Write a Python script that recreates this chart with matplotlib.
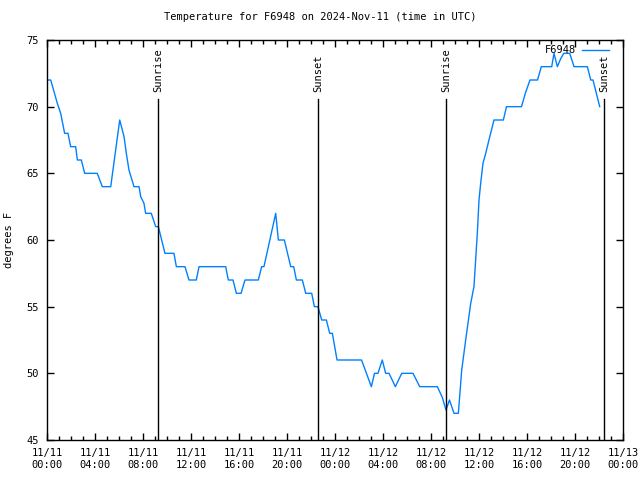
import numpy as np
import pandas as pd
import matplotlib
matplotlib.use("Agg")
import matplotlib.pyplot as plt
import matplotlib.dates as mdates

plt.rcParams['font.family'] = ['DejaVu Sans Mono']
plt.rcParams['font.size'] = 7.5

start = pd.Timestamp("2024-11-11 00:00")

# hours after 11/11 00:00 UTC, temperature in F
hours = [0.04, 0.31, 0.86, 1.14, 1.47, 1.75, 1.97, 2.39, 2.53, 2.86,
         3.14, 4.19, 4.61, 5.31, 6.06, 6.42, 6.61, 6.83, 7.25, 7.67,
         7.81, 8.08, 8.22, 8.69, 9.06, 9.28, 9.83, 10.58, 10.78, 11.5,
         11.83, 12.44, 12.67, 14.89, 15.11, 15.5, 15.78, 16.17, 16.5, 17.61,
         17.89, 18.08, 19.06, 19.28, 19.78, 20.31, 20.56, 20.78, 21.28, 21.56,
         22.06, 22.28, 22.58, 22.89, 23.28, 23.56, 23.78, 24.17, 26.21, 27.03,
         27.29, 27.58, 27.94, 28.22, 28.5, 29.03, 29.56, 30.5, 31.06, 32.53,
         32.94, 33.25, 33.54, 33.92, 34.28, 34.56, 34.89, 35.31, 35.58, 35.72,
         35.86, 36.0, 36.14, 36.33, 36.56, 36.83, 37.11, 37.25, 38.03, 38.29,
         39.54, 39.86, 40.25, 40.88, 41.19, 42.06, 42.25, 42.53, 42.81, 43.06,
         43.56, 43.92, 45.03, 45.31, 45.5, 45.78, 46.06]
temps = [72, 72, 70.25, 69.5, 68, 68, 67, 67, 66, 66,
         65, 65, 64, 64, 69, 67.75, 66.5, 65.25, 64, 64,
         63.25, 62.75, 62, 62, 61, 61, 59, 59, 58, 58,
         57, 57, 58, 58, 57, 57, 56, 56, 57, 57,
         58, 58, 62, 60, 60, 58, 58, 57, 57, 56,
         56, 55, 55, 54, 54, 53, 53, 51, 51, 49,
         50, 50, 51, 50, 50, 49, 50, 50, 49, 49,
         48.2, 47.25, 48, 47, 47, 50.25, 52.5, 55.25, 56.5, 58.5,
         60.5, 63, 64.25, 65.75, 66.5, 67.5, 68.5, 69, 69, 70,
         70, 71, 72, 72, 73, 73, 74, 73, 73.6, 74,
         74, 73, 73, 72, 72, 71, 70]

sun_hours = [9.28, 22.61, 33.28, 46.42]
sun_labels = ["Sunrise", "Sunset", "Sunrise", "Sunset"]

times = start + pd.to_timedelta(hours, unit="h")

fig = plt.figure(figsize=(6.4, 4.8), dpi=100)
ax = fig.add_axes([47/640, 40/480, 576/640, 400/480])

ax.plot(times, temps, color="#0080ff", lw=1, label="F6948")

for h, lab in zip(sun_hours, sun_labels):
    t = start + pd.Timedelta(hours=h)
    ax.axvline(t, ymin=0, ymax=0.853, color="black", lw=1)
    ax.text(t, 0.87, lab, transform=ax.get_xaxis_transform(), rotation=90,
            ha="center", va="bottom", fontsize=7.5)

ax.set_xlim(start, start + pd.Timedelta(hours=48))
ax.set_ylim(45, 75)
ax.set_yticks(np.arange(45, 76, 5))
ax.xaxis.set_major_locator(mdates.HourLocator(byhour=range(0, 24, 4)))
ax.xaxis.set_minor_locator(mdates.HourLocator())
ax.xaxis.set_major_formatter(mdates.DateFormatter("%m/%d\n%H:%M"))
ax.tick_params(direction="in", top=True, right=True, length=5, width=1, labelsize=7.5, pad=6)
ax.tick_params(which="minor", direction="in", top=True, length=3, width=1)
for s in ax.spines.values():
    s.set_linewidth(1)

ax.set_ylabel("degrees F", fontsize=7.5, labelpad=9)
fig.suptitle("Temperature for F6948 on 2024-Nov-11 (time in UTC)", y=0.975, fontsize=7.5)

ax.legend(loc="upper right", frameon=False, markerfirst=False, handlelength=2.6,
          handletextpad=0.6, borderaxespad=0.2, borderpad=0.3, fontsize=7.5,
          bbox_to_anchor=(0.985, 1.0))

fig.savefig("out.png", dpi=100)
